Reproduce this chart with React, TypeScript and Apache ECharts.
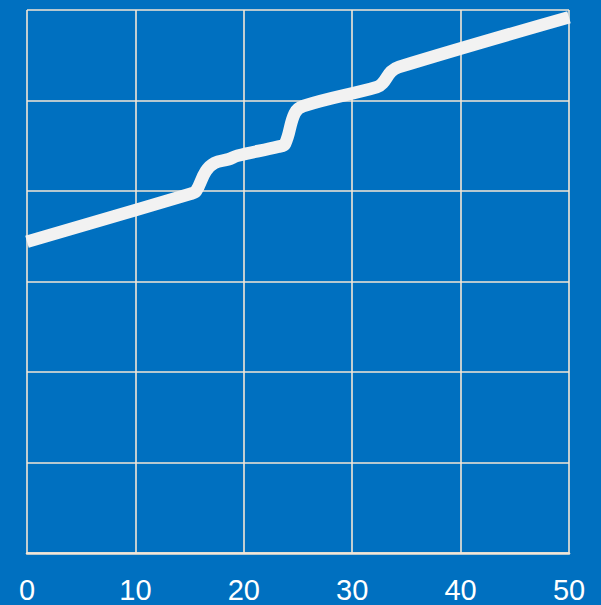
import React, { useEffect, useRef } from "react";
import * as echarts from "echarts";

const xValues = [0, 15.1, 15.6, 16.5, 17.3, 18.6, 19.4, 23.2, 23.8, 24.7, 25.5, 32.3, 32.8, 33.6, 34.3, 50];
const yValues = [3.44, 3.97, 4.0, 4.22, 4.31, 4.35, 4.39, 4.49, 4.52, 4.86, 4.94, 5.15, 5.19, 5.32, 5.37, 5.92];
const xTicks = [0, 10, 20, 30, 40, 50];

const BLUE = "#0070C0";
const GRID = "#F2E6D6";

export default function App() {
  const ref = useRef<HTMLDivElement>(null);
  useEffect(() => {
    if (!ref.current) return;
    const chart = echarts.init(ref.current, undefined, { renderer: "svg" });
    const data = xValues.map((x, i) => [x, yValues[i]]);
    chart.setOption({
      animation: false,
      backgroundColor: BLUE,
      grid: { left: 27, right: 32, top: 10, bottom: 52, containLabel: false },
      xAxis: {
        type: "value",
        min: 0,
        max: 50,
        interval: 10,
        axisLine: { show: true, lineStyle: { color: GRID, width: 2.5 } },
        axisTick: { show: false },
        axisLabel: {
          color: "#FFFFFF",
          fontSize: 29,
          lineHeight: 29,
          fontFamily: "Liberation Sans, Arial, sans-serif",
          margin: 22,
          formatter: (v: number) => (xTicks.includes(v) ? String(v) : ""),
        },
        splitLine: { show: true, lineStyle: { color: GRID, width: 1.6 } },
      },
      yAxis: {
        type: "value",
        min: 0,
        max: 6,
        interval: 1,
        axisLine: { show: false },
        axisTick: { show: false },
        axisLabel: { show: false },
        splitLine: { show: true, lineStyle: { color: GRID, width: 1.6 } },
      },
      series: [
        {
          type: "line",
          data,
          smooth: 0.4,
          showSymbol: false,
          symbol: "none",
          lineStyle: { color: "#F2F2F2", width: 12.5, cap: "butt", join: "round" },
        },
      ],
    });
    return () => chart.dispose();
  }, []);
  return (
    <div
      ref={ref}
      style={{ position: "fixed", left: 0, top: 0, width: 601, height: 605 }}
    />
  );
}
